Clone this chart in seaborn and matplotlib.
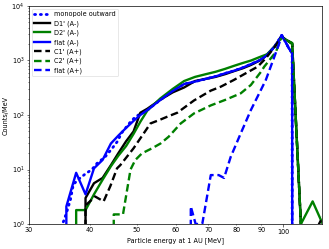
import warnings
warnings.filterwarnings("ignore")
import numpy as np
import pandas as pd
import matplotlib
matplotlib.use("Agg")
import matplotlib.pyplot as plt
import seaborn as sns
from matplotlib.ticker import FuncFormatter

# ---------------- data ----------------
mono_E = [34.2, 34.9, 35.3, 35.9, 36.5, 37.0, 37.9, 39.1, 40.4, 41.4, 43.0, 44.4, 45.5,
          46.6, 48.5, 49.6, 50.8, 52.5, 55.8, 59.2, 62.5, 65.8, 69.2, 72.5, 75.8, 79.2,
          82.5, 85.8, 89.2, 92.5, 95.8, 99.2, 100.8, 102.5, 104.2, 105.8]
mono_C = [0, 1.0, 1.1, 1.7, 2.8, 5.3, 6.6, 8.2, 10, 13, 17, 24, 32,
          48, 75, 92, 105, 123, 188, 275, 370, 410, 460, 510, 580, 650,
          740, 860, 1000, 1250, 1780, 2900, 2250, 1700, 1350, 0]

d1_E = [37.5, 39.2, 40.8, 42.5, 44.2, 45.8, 47.5, 49.2, 50.8, 52.5, 55.8, 59.2, 62.5,
        65.8, 69.2, 72.5, 75.8, 79.2, 82.5, 85.8, 89.2, 92.5, 95.8, 99.2, 100.8, 102.5,
        104.2, 108.6, 110.0]
d1_C = [0, 3.0, 5.6, 7.0, 12, 20, 33, 50, 110, 130, 190, 260, 320,
        420, 460, 500, 560, 640, 720, 830, 990, 1250, 1800, 2700, 2450, 2250,
        2050, 1.0, 0]

d2_E = [35.8, 37.5, 39.2, 40.8, 42.5, 44.2, 45.8, 47.5, 49.2, 50.8, 52.5, 55.8, 59.2,
        62.5, 65.8, 69.2, 72.5, 75.8, 79.2, 82.5, 85.8, 89.2, 92.5, 95.8, 99.2, 100.8,
        102.5, 104.2, 108.6, 114.8, 120.4]
d2_C = [0, 1.8, 1.8, 3.5, 6.5, 11.5, 18, 27, 45, 75, 120, 200, 300,
        420, 500, 560, 620, 700, 800, 900, 1000, 1150, 1300, 1800, 2700, 2450,
        2250, 2100, 1.0, 2.6, 1.0]

flatm_E = [34.2, 35.8, 37.5, 39.2, 40.8, 42.5, 44.2, 45.8, 47.5, 49.2, 50.8, 52.5, 55.8,
           59.2, 62.5, 65.8, 69.2, 72.5, 75.8, 79.2, 82.5, 85.8, 89.2, 92.5, 95.8, 99.2,
           100.8, 102.5, 104.2, 105.8]
flatm_C = [0, 2.1, 8.7, 3.5, 10.5, 15, 30, 42, 58, 78, 100, 123, 188,
           275, 370, 410, 460, 510, 580, 650, 740, 860, 1000, 1250, 1780, 2900,
           2250, 1700, 1350, 0]

c1_E = [37.5, 39.2, 40.4, 41.0, 42.7, 44.1, 45.5, 46.2, 49.2, 53.3, 55.6, 57.7, 60.5,
        65.5, 70.9, 74.3, 79.1, 83.0, 88.5, 92.0, 96.5, 99.1, 100.8, 102.5, 104.2,
        108.6, 110.0, 116.7, 118.3, 121.7]
c1_C = [0, 2.2, 2.8, 3.2, 2.6, 5.0, 10.5, 12, 24.5, 70, 81, 93, 110,
        185, 280, 330, 440, 560, 770, 1100, 1900, 2800, 2450, 2250, 2000,
        1.0, 0, 0, 1.0, 1.6]

c2_E = [43.2, 44.8, 46.8, 48.5, 49.6, 51.2, 53.7, 55.9, 58.1, 61.5, 65.5, 70.9, 76.0,
        81.7, 85.7, 89.9, 91.3, 96.5, 99.1, 100.8, 102.5, 104.2, 108.6]
c2_C = [0, 1.5, 1.5, 10, 14.9, 19.8, 24.5, 30, 40, 70, 107, 150, 190,
        250, 355, 620, 770, 1440, 2700, 2450, 2250, 2050, 1.0]

flatp_E = [62.8, 64.5, 66.0, 68.1, 70.9, 73.6, 75.5, 77.9, 81.7, 85.7, 89.9, 92.0, 98.0,
           99.1, 100.8, 102.5, 104.2, 105.8]
flatp_C = [0, 2.1, 1.0, 1.0, 7.9, 7.9, 7.0, 17, 46, 123, 290, 440, 2050,
           2900, 2250, 1700, 1350, 0]

labels = ["monopole outward", "D1' (A-)", "D2' (A-)", "flat (A-)",
          "C1' (A+)", "C2' (A+)", "flat (A+)"]
x_ticks = [30, 40, 50, 60, 70, 80, 90, 100]

# ---------------- figure ----------------
FS = 4.7
plt.rcParams["font.family"] = ["DejaVu Sans"]
fig = plt.figure(figsize=(3.29, 2.49), dpi=100)
ax = fig.add_axes([29 / 329, 25 / 249, 293 / 329, 218 / 249])
ax.set_xscale("log")
ax.set_yscale("log")

series = [
    (mono_E, mono_C, "blue", (0, (0.4, 1.7)), 2.0, "round"),
    (d1_E, d1_C, "black", "-", 1.7, "butt"),
    (d2_E, d2_C, "green", "-", 1.7, "butt"),
    (flatm_E, flatm_C, "blue", "-", 1.7, "butt"),
    (c1_E, c1_C, "black", (0, (3.2, 1.6)), 1.7, "butt"),
    (c2_E, c2_C, "green", (0, (3.2, 1.6)), 1.7, "butt"),
    (flatp_E, flatp_C, "blue", (0, (3.2, 1.6)), 1.7, "butt"),
]
for (e, c, col, ls, lw, cap), lab in zip(series, labels):
    df = pd.DataFrame({"E": e, "C": c})
    sns.lineplot(data=df, x="E", y="C", ax=ax, color=col, linestyle=ls, lw=lw,
                 dash_capstyle=cap, label=lab, sort=False, estimator=None)

ax.set_xlim(30, 120)
ax.set_ylim(1, 1e4)
fmt = FuncFormatter(lambda v, p: f"{int(round(v))}" if int(round(v)) in x_ticks else "")
ax.xaxis.set_major_formatter(fmt)
ax.xaxis.set_minor_formatter(fmt)

ax.set_xlabel("Particle energy at 1 AU [MeV]", fontsize=FS, labelpad=2)
ax.set_ylabel("Counts/MeV", fontsize=FS, labelpad=2)
ax.tick_params(which="both", labelsize=FS, width=0.4, pad=1.5)
ax.tick_params(which="major", length=1.8)
ax.tick_params(which="minor", length=1.0)
for sp in ax.spines.values():
    sp.set_linewidth(0.5)

leg = ax.legend(loc="upper left", fontsize=FS, handlelength=2.4, borderaxespad=0.4,
                labelspacing=0.45, handletextpad=0.6, borderpad=0.4)
leg.get_frame().set_linewidth(0.4)

fig.savefig("out.png", dpi=100)
